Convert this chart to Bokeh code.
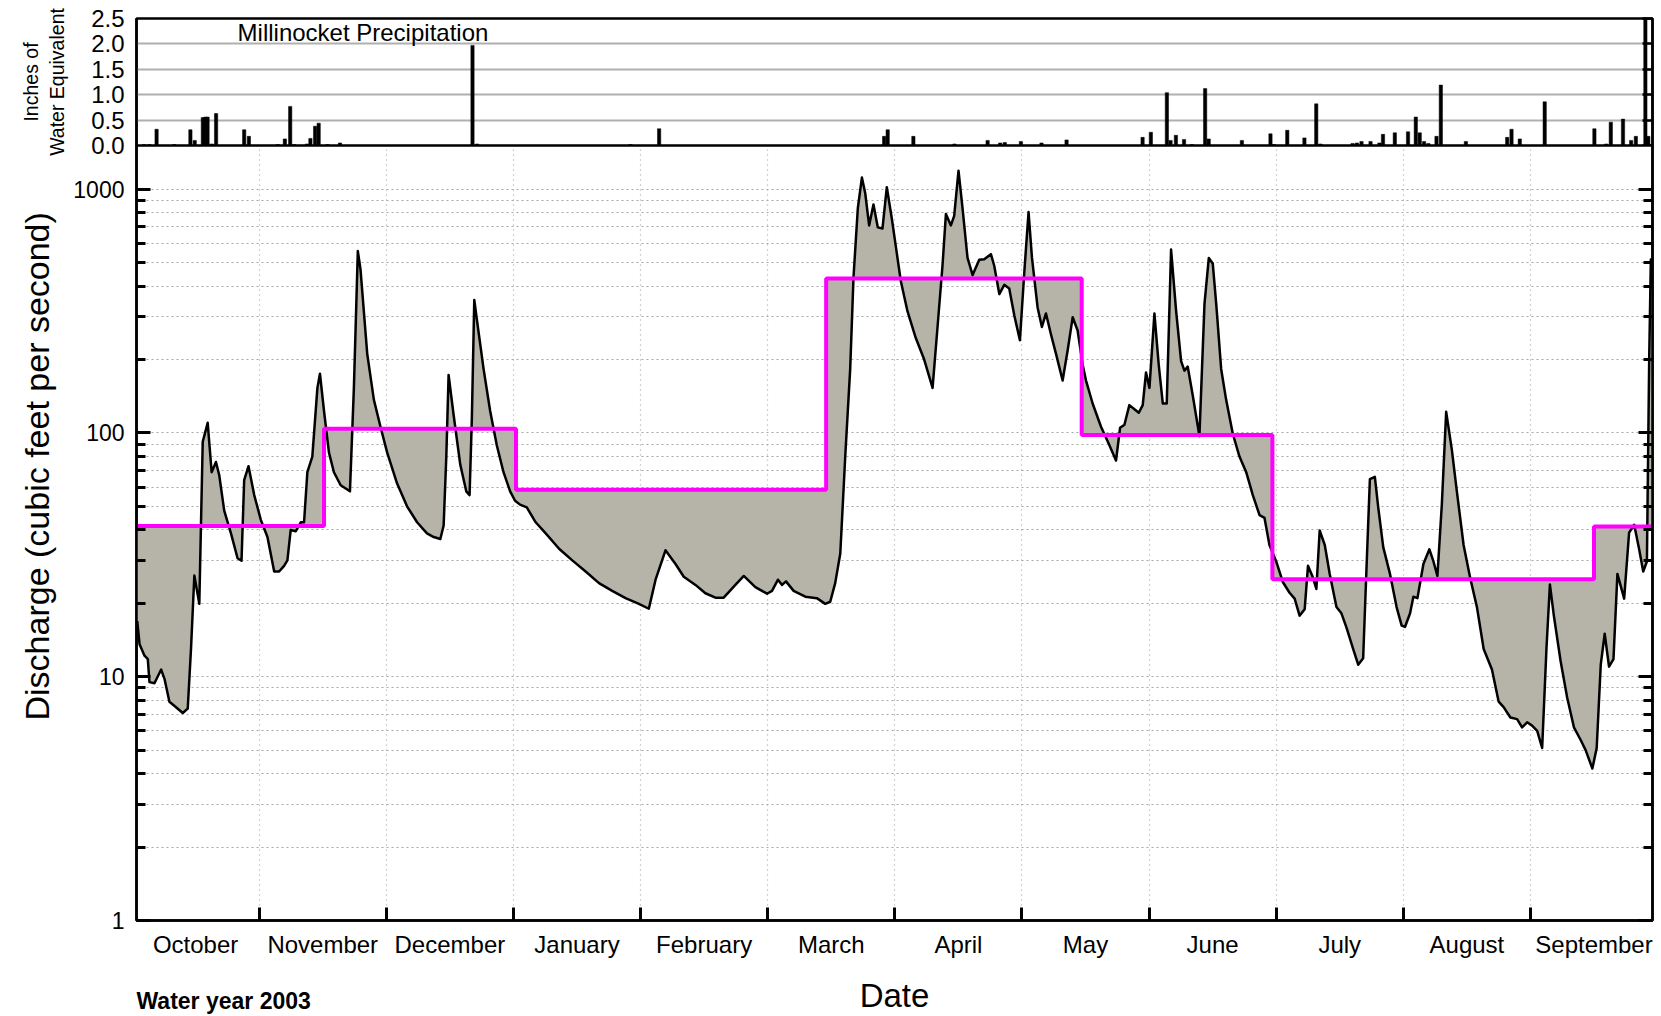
from bokeh.plotting import figure
from bokeh.models import (Range1d, FixedTicker, LogAxis, LinearAxis, Label, Title,
                          NumeralTickFormatter, CustomJSTickFormatter)
from bokeh.core.properties import value
from bokeh.layouts import column
from bokeh.embed import file_html
from bokeh.resources import INLINE
import numpy as np

# ---------------- data (x in months since 1 Oct 2002) ----------------
months = ["October", "November", "December", "January", "February", "March",
          "April", "May", "June", "July", "August", "September"]

flow_m = [0.041, 0.059, 0.098, 0.124, 0.137, 0.176, 0.229, 0.255, 0.294, 0.346,
          0.399, 0.438, 0.464, 0.490, 0.529, 0.556, 0.595, 0.626, 0.660, 0.686,
          0.725, 0.778, 0.830, 0.861, 0.882, 0.916, 0.961, 1.013, 1.065, 1.118,
          1.157, 1.196, 1.222, 1.248, 1.288, 1.327, 1.353, 1.379, 1.418, 1.458,
          1.478, 1.510, 1.549, 1.588, 1.641, 1.714, 1.745, 1.776, 1.797, 1.850,
          1.902, 1.954, 2.007, 2.085, 2.163, 2.242, 2.320, 2.373, 2.425, 2.451,
          2.472, 2.490, 2.529, 2.582, 2.629, 2.655, 2.673, 2.692, 2.712, 2.765,
          2.817, 2.869, 2.922, 2.974, 3.013, 3.052, 3.105,
          3.175, 3.254, 3.359, 3.463, 3.568, 3.673, 3.777, 3.882, 3.987, 4.065,
          4.118, 4.196, 4.275, 4.340, 4.432, 4.510, 4.589, 4.654, 4.746, 4.812,
          4.903, 4.995, 5.034, 5.081, 5.113, 5.144, 5.204, 5.296, 5.387, 5.453,
          5.492, 5.531, 5.571, 5.610, 5.649, 5.675, 5.709, 5.741, 5.767, 5.798,
          5.832, 5.866, 5.903, 5.937, 5.976,
          6.047, 6.100, 6.165, 6.231, 6.297, 6.336, 6.375, 6.402, 6.441, 6.467,
          6.501, 6.533, 6.572, 6.612, 6.664, 6.703, 6.756, 6.782, 6.822, 6.861,
          6.900, 6.940, 6.984, 7.018, 7.052, 7.079, 7.123, 7.157, 7.189, 7.228,
          7.268, 7.320, 7.360, 7.399, 7.438, 7.478, 7.504, 7.556, 7.622, 7.688,
          7.740, 7.772, 7.806, 7.845, 7.885, 7.919, 7.950, 7.976, 8.003, 8.042,
          8.076, 8.108, 8.139, 8.173, 8.213, 8.252, 8.278, 8.304, 8.344, 8.396,
          8.436, 8.470, 8.501, 8.528, 8.567, 8.606, 8.659, 8.711, 8.764, 8.816,
          8.869, 8.908,
          8.947, 9.000, 9.053, 9.105, 9.145, 9.184, 9.224, 9.250, 9.284, 9.316,
          9.342, 9.382, 9.421, 9.474, 9.513, 9.553, 9.605, 9.645, 9.684, 9.711,
          9.737, 9.776, 9.803, 9.842, 9.895, 9.947, 9.987, 10.013, 10.053, 10.079,
          10.111, 10.158, 10.205, 10.237, 10.268, 10.303, 10.337, 10.382, 10.421,
          10.474, 10.526, 10.579, 10.632, 10.697, 10.750, 10.789, 10.842, 10.895,
          10.934, 10.974, 11.013, 11.053, 11.092, 11.126, 11.153, 11.184, 11.237,
          11.289, 11.342, 11.395, 11.434, 11.487, 11.521, 11.553, 11.584, 11.618,
          11.653, 11.684, 11.737, 11.776, 11.816, 11.855, 11.887, 11.916, 11.934,
          11.947, 11.961]

flow_cfs = [16.9, 13.6, 12.2, 11.8, 9.5, 9.4, 10.7, 9.8, 7.9, 7.5,
            7.1, 7.4, 13.1, 26, 19.9, 92, 110, 69, 76, 67,
            48, 38.7, 30.6, 29.9, 64, 73, 55.6, 44, 37.4, 27,
            27, 28.5, 30, 40, 39.5, 43, 43, 69, 80, 153,
            175, 123, 83, 69, 61, 57.6, 153, 557, 469, 211,
            137, 106, 83, 62, 50, 43, 38.7, 37.4, 36.7, 41.7,
            80, 173, 119, 74, 57.6, 55.6, 115, 351, 293, 183,
            123, 89, 69, 57.6, 52.7, 50.8, 49.5,
            43, 38.7, 33.5, 30, 27, 24.2, 22.5, 21, 19.9, 19.0,
            25, 33, 29, 25.7, 23.8, 22, 21.1, 21.1, 23.8, 25.9,
            23.3, 21.9, 22.5, 25, 23.8, 24.6, 22.5, 21.3, 21, 19.9,
            20.3, 24.2, 32, 80, 183, 435, 835, 1115, 964, 710,
            865, 697, 690, 1018, 760,
            420, 315, 245, 200, 153, 272, 485, 791, 710, 777,
            1190, 832, 522, 444, 513, 516, 541, 485, 371, 405,
            391, 303, 240, 452, 805, 522, 327, 272, 309, 254,
            211, 164, 219, 298, 263, 190, 164, 132, 106, 89,
            77, 105, 108, 130, 125, 121, 130, 177, 153, 309,
            190, 132, 132, 565, 315, 197, 180, 187, 142, 97,
            339, 522, 495, 339, 183, 137, 99, 80, 69, 55.6,
            46, 44.8,
            34.7, 29.7, 24.4, 22.1, 20.9, 17.8, 18.9, 28.5, 25.9, 22.9,
            39.8, 34.7, 26.4, 19.3, 18.2, 15.9, 13.0, 11.2, 11.9, 28.5,
            64.6, 66, 49.3, 34, 26.4, 19.3, 16.2, 16.0, 18.2, 21.3,
            21, 29, 33.3, 29.7, 25.9, 51, 122, 85, 57.6,
            34.7, 25.4, 19.3, 13.0, 10.7, 7.9, 7.5, 6.8, 6.7,
            6.2, 6.5, 6.3, 6.0, 5.1, 13.1, 23.9, 17.8, 11.6,
            8.2, 6.2, 5.5, 5.0, 4.2, 5.1, 11.2, 15, 11,
            11.8, 26.4, 20.9, 39, 42, 33.3, 27, 29.7, 201,
            514, 392]

# mean-flow periods: edges (months since 1 Oct) and mean discharge
step_edges = [0.035, 1.51, 3.02, 5.46, 7.47, 8.97, 11.5, 11.96]
step_cfs = [41.5, 104, 58.5, 430, 98, 25.1, 41.3]

precip_m = [0.095, 0.137, 0.193, 0.333, 0.459, 0.493, 0.557, 0.577, 0.594, 0.627,
            0.661, 0.882, 0.919, 1.146, 1.202, 1.244, 1.277, 1.375, 1.403, 1.440,
            1.468, 1.538, 1.636, 2.678, 2.714,
            3.921, 4.146, 5.916, 5.944, 6.146, 6.469, 6.730, 6.829, 6.865, 6.992,
            7.154, 7.351,
            7.949, 8.014, 8.140, 8.169, 8.211, 8.275, 8.337, 8.441, 8.469, 8.730,
            8.955, 8.983, 9.087, 9.222, 9.315, 9.348, 9.601, 9.635, 9.671, 9.742,
            9.812, 9.840, 9.933, 10.037, 10.098, 10.129, 10.163, 10.197, 10.261,
            10.295, 10.492, 10.817, 10.851, 10.916, 11.112, 11.503, 11.596, 11.632,
            11.728, 11.792, 11.829, 11.904, 11.927]
precip_in = [0.02, 0.02, 0.32, 0.02, 0.31, 0.10, 0.55, 0.56, 0.56, 0.03,
             0.63, 0.31, 0.18, 0.02, 0.13, 0.77, 0.02, 0.03, 0.14, 0.38,
             0.44, 0.02, 0.05, 1.97, 0.03,
             0.02, 0.33, 0.18, 0.31, 0.18, 0.03, 0.10, 0.05, 0.06, 0.08,
             0.05, 0.11,
             0.16, 0.26, 1.04, 0.10, 0.20, 0.12, 0.02, 1.12, 0.13, 0.10,
             0.23, 0.02, 0.30, 0.15, 0.82, 0.03, 0.04, 0.05, 0.08, 0.08,
             0.05, 0.22, 0.25, 0.27, 0.56, 0.25, 0.08, 0.04, 0.18,
             1.19, 0.08, 0.16, 0.32, 0.13, 0.86, 0.33, 0.03, 0.46,
             0.52, 0.10, 0.18, 2.60, 0.18]

precip_ticks = [0.0, 0.5, 1.0, 1.5, 2.0, 2.5]
flow_ticks = [1, 10, 100, 1000]

X_START, X_END = 0.035, 11.96
FONT = "Liberation Sans"
GRID_COLOR = "#a6a6a6"
FILL = "#b6b4a9"
BLANK = CustomJSTickFormatter(code="return ''")

# ---------------- precipitation panel ----------------
pr = figure(frame_width=1516, frame_height=127, x_range=Range1d(X_START, X_END),
            y_range=Range1d(0, 2.5), x_axis_location=None,
            output_backend="svg", toolbar_location=None,
            min_border_left=134, min_border_right=11, min_border_top=18,
            min_border_bottom=14)
pr.outline_line_color = "black"
pr.outline_line_width = 2.5
pr.xgrid.visible = False
pr.ygrid.ticker = FixedTicker(ticks=precip_ticks)
pr.ygrid.grid_line_color = "#b0b0b0"
pr.ygrid.grid_line_width = 2
pr.yaxis.ticker = FixedTicker(ticks=precip_ticks)
pr.yaxis.formatter = NumeralTickFormatter(format="0.0")
pr.yaxis.major_tick_in = 0
pr.yaxis.major_tick_out = 0
pr.yaxis.minor_tick_in = 0
pr.yaxis.minor_tick_out = 0
pr.yaxis.axis_line_width = 2.5
pr.yaxis.major_label_text_font = FONT
pr.yaxis.major_label_text_font_size = "24px"
pr.yaxis.major_label_text_color = "black"
pr.yaxis.major_label_standoff = 12
pr.yaxis.axis_label = "Inches of\nWater Equivalent"
pr.yaxis.axis_label_text_font = FONT
pr.yaxis.axis_label_text_font_size = "19.5px"
pr.yaxis.axis_label_text_font_style = "normal"
pr.yaxis.axis_label_text_color = "black"
pr.yaxis.axis_label_standoff = 20

pr_right = LinearAxis(ticker=FixedTicker(ticks=precip_ticks), formatter=BLANK,
                      major_label_standoff=0,
                      major_tick_in=10, major_tick_out=0,
                      minor_tick_in=0, minor_tick_out=0,
                      major_tick_line_width=2.5, axis_line_width=2.5)
pr.add_layout(pr_right, "right")

pr.vbar(x=precip_m, top=precip_in, width=0.026, bottom=0,
        fill_color="black", line_color="black", line_width=0.5)

pr.add_layout(Label(x=0.83, y=2.49, text="Millinocket Precipitation",
                    text_baseline="top", text_font=FONT,
                    text_font_size="24px", text_color="black"))

# ---------------- discharge panel ----------------
minor_flow = [d * 10 ** k for k in range(0, 3) for d in range(2, 10)]
ticker = FixedTicker(ticks=flow_ticks, minor_ticks=minor_flow)

p = figure(frame_width=1516, frame_height=775, y_axis_type="log",
           x_range=pr.x_range, y_range=Range1d(1, 1510),
           output_backend="svg", toolbar_location=None,
           min_border_left=134, min_border_right=11, min_border_top=0,
           min_border_bottom=96, margin=(-14, 0, 0, 0))
p.border_fill_color = None
p.outline_line_color = "black"
p.outline_line_width = 2.5

p.ygrid.ticker = ticker
p.ygrid.grid_line_color = GRID_COLOR
p.ygrid.grid_line_dash = "2 3"
p.ygrid.grid_line_width = 1
p.ygrid.minor_grid_line_color = GRID_COLOR
p.ygrid.minor_grid_line_dash = "2 3"
p.ygrid.minor_grid_line_width = 1
p.xgrid.ticker = FixedTicker(ticks=list(range(1, 12)))
p.xgrid.grid_line_color = GRID_COLOR
p.xgrid.grid_line_dash = "1 4"
p.xgrid.grid_line_width = 1.2

p.yaxis.ticker = ticker
p.yaxis.formatter = NumeralTickFormatter(format="0")
p.yaxis.major_tick_in = 14
p.yaxis.major_tick_out = 0
p.yaxis.minor_tick_in = 9
p.yaxis.minor_tick_out = 0
p.yaxis.major_tick_line_width = 3
p.yaxis.minor_tick_line_width = 3
p.yaxis.axis_line_width = 2.5
p.yaxis.major_label_text_font = FONT
p.yaxis.major_label_text_font_size = "23px"
p.yaxis.major_label_text_color = "black"
p.yaxis.major_label_standoff = 12

# axis title, placed like the reference (centred on both panels)
p.add_layout(Title(text="Discharge (cubic feet per second)", align="left",
                   offset=200, text_font=FONT, text_font_size="34px",
                   text_font_style="normal", text_color="black",
                   standoff=30), "left")

p_right = LogAxis(ticker=ticker, formatter=BLANK,
                  major_label_standoff=0, major_tick_in=14, major_tick_out=0,
                  minor_tick_in=9, minor_tick_out=0, major_tick_line_width=3,
                  minor_tick_line_width=3, axis_line_width=2.5)
p.add_layout(p_right, "right")

label_pos = [i + 0.5 for i in range(12)]
p.xaxis.ticker = FixedTicker(ticks=label_pos, minor_ticks=list(range(1, 12)))
p.xaxis.major_label_overrides = {pos: name for pos, name in zip(label_pos, months)}
p.xaxis.major_tick_in = 0
p.xaxis.major_tick_out = 0
p.xaxis.minor_tick_in = 13
p.xaxis.minor_tick_out = 0
p.xaxis.minor_tick_line_width = 3
p.xaxis.axis_line_width = 2.5
p.xaxis.major_label_text_font = FONT
p.xaxis.major_label_text_font_size = "24px"
p.xaxis.major_label_text_color = "black"
p.xaxis.major_label_standoff = 10
p.xaxis.axis_label = "Date"
p.xaxis.axis_label_text_font = FONT
p.xaxis.axis_label_text_font_size = "33px"
p.xaxis.axis_label_text_font_style = "normal"
p.xaxis.axis_label_text_color = "black"
p.xaxis.axis_label_standoff = 16

# shaded area between daily flow and period mean
fm = np.array(flow_m)
fl = np.log10(np.array(flow_cfs))
xs, y1, y2 = [], [], []
for i, v in enumerate(step_cfs):
    a, b = step_edges[i], step_edges[i + 1]
    inner = fm[(fm > a) & (fm < b)]
    seg = np.concatenate([[a], inner, [b]])
    xs += list(seg)
    y1 += list(10 ** np.interp(seg, fm, fl))
    y2 += [v] * len(seg)
p.varea(x=xs, y1=y1, y2=y2, fill_color=FILL)

p.line(flow_m, flow_cfs, line_color="black", line_width=2.5, line_join="round")

sx, sy = [], []
for i, v in enumerate(step_cfs):
    sx += [step_edges[i], step_edges[i + 1]]
    sy += [v, v]
p.line(sx, sy, line_color="#ff00ff", line_width=4)

p.text(x=[X_START], y=[0.53], text=["Water year 2003"], text_baseline="top",
       text_align="left", text_font=value(FONT), text_font_size="23px",
       text_font_style="bold", text_color="black", level="overlay")

layout = column(pr, p)
open("out.html", "w").write(file_html(layout, INLINE))
